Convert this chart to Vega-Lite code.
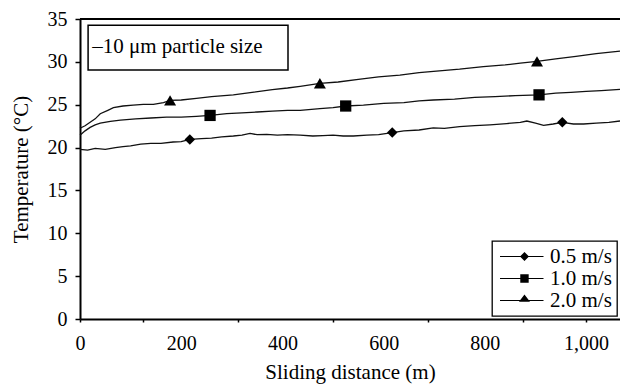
{
  "$schema": "https://vega.github.io/schema/vega-lite/v6.json",
  "width": 540,
  "height": 300,
  "autosize": {"type": "none"},
  "padding": {"left": 80, "top": 19, "right": 0, "bottom": 67},
  "background": "white",
  "config": {
    "view": {"stroke": null},
    "font": "Liberation Serif",
    "axis": {
      "grid": false,
      "domainColor": "black",
      "domainWidth": 2,
      "tickColor": "black",
      "tickWidth": 1.5,
      "labelColor": "black",
      "titleColor": "black",
      "labelFont": "Liberation Serif",
      "titleFont": "Liberation Serif",
      "labelFontSize": 20,
      "titleFontSize": 21,
      "titleFontWeight": "normal"
    },
    "legend": {
      "orient": "bottom-right",
      "offset": 3,
      "padding": 5,
      "strokeColor": "black",
      "strokeWidth": 1.3,
      "fillColor": "white",
      "symbolSize": 144,
      "symbolStrokeWidth": 0,
      "symbolFillColor": "black",
      "symbolOffset": 6,
      "labelFont": "Liberation Serif",
      "labelFontSize": 21,
      "labelColor": "black",
      "labelOffset": 26,
      "labelLimit": 300,
      "rowPadding": 0
    }
  },
  "datasets": {
    "lines": [
      {"series": "0.5 m/s", "x": 0, "t": 19.8},
      {"series": "0.5 m/s", "x": 15, "t": 19.7},
      {"series": "0.5 m/s", "x": 30, "t": 19.9},
      {"series": "0.5 m/s", "x": 50, "t": 19.8},
      {"series": "0.5 m/s", "x": 70, "t": 20.0},
      {"series": "0.5 m/s", "x": 85, "t": 20.1},
      {"series": "0.5 m/s", "x": 100, "t": 20.2},
      {"series": "0.5 m/s", "x": 120, "t": 20.4},
      {"series": "0.5 m/s", "x": 140, "t": 20.5},
      {"series": "0.5 m/s", "x": 160, "t": 20.5},
      {"series": "0.5 m/s", "x": 184, "t": 20.65},
      {"series": "0.5 m/s", "x": 200, "t": 20.7},
      {"series": "0.5 m/s", "x": 217, "t": 20.95},
      {"series": "0.5 m/s", "x": 240, "t": 21.05},
      {"series": "0.5 m/s", "x": 260, "t": 21.1},
      {"series": "0.5 m/s", "x": 280, "t": 21.25},
      {"series": "0.5 m/s", "x": 303, "t": 21.35},
      {"series": "0.5 m/s", "x": 320, "t": 21.45},
      {"series": "0.5 m/s", "x": 336, "t": 21.65},
      {"series": "0.5 m/s", "x": 350, "t": 21.5},
      {"series": "0.5 m/s", "x": 369, "t": 21.55},
      {"series": "0.5 m/s", "x": 390, "t": 21.45},
      {"series": "0.5 m/s", "x": 410, "t": 21.5},
      {"series": "0.5 m/s", "x": 435, "t": 21.45},
      {"series": "0.5 m/s", "x": 460, "t": 21.35},
      {"series": "0.5 m/s", "x": 480, "t": 21.4},
      {"series": "0.5 m/s", "x": 500, "t": 21.45},
      {"series": "0.5 m/s", "x": 520, "t": 21.35},
      {"series": "0.5 m/s", "x": 540, "t": 21.35},
      {"series": "0.5 m/s", "x": 567, "t": 21.45},
      {"series": "0.5 m/s", "x": 590, "t": 21.5},
      {"series": "0.5 m/s", "x": 617, "t": 21.75},
      {"series": "0.5 m/s", "x": 640, "t": 21.95},
      {"series": "0.5 m/s", "x": 670, "t": 22.05},
      {"series": "0.5 m/s", "x": 698, "t": 22.3},
      {"series": "0.5 m/s", "x": 720, "t": 22.25},
      {"series": "0.5 m/s", "x": 750, "t": 22.45},
      {"series": "0.5 m/s", "x": 780, "t": 22.55},
      {"series": "0.5 m/s", "x": 810, "t": 22.65},
      {"series": "0.5 m/s", "x": 843, "t": 22.8},
      {"series": "0.5 m/s", "x": 870, "t": 22.95},
      {"series": "0.5 m/s", "x": 883, "t": 23.1},
      {"series": "0.5 m/s", "x": 900, "t": 22.85},
      {"series": "0.5 m/s", "x": 916, "t": 22.6},
      {"series": "0.5 m/s", "x": 935, "t": 22.75},
      {"series": "0.5 m/s", "x": 953, "t": 22.95},
      {"series": "0.5 m/s", "x": 975, "t": 22.75},
      {"series": "0.5 m/s", "x": 995, "t": 22.75},
      {"series": "0.5 m/s", "x": 1020, "t": 22.85},
      {"series": "0.5 m/s", "x": 1045, "t": 22.95},
      {"series": "0.5 m/s", "x": 1067, "t": 23.1},
      {"series": "1.0 m/s", "x": 0, "t": 21.45},
      {"series": "1.0 m/s", "x": 10, "t": 21.95},
      {"series": "1.0 m/s", "x": 20, "t": 22.35},
      {"series": "1.0 m/s", "x": 30, "t": 22.65},
      {"series": "1.0 m/s", "x": 40, "t": 22.85},
      {"series": "1.0 m/s", "x": 60, "t": 23.05},
      {"series": "1.0 m/s", "x": 80, "t": 23.2},
      {"series": "1.0 m/s", "x": 110, "t": 23.35},
      {"series": "1.0 m/s", "x": 140, "t": 23.45},
      {"series": "1.0 m/s", "x": 171, "t": 23.55},
      {"series": "1.0 m/s", "x": 200, "t": 23.55},
      {"series": "1.0 m/s", "x": 230, "t": 23.65},
      {"series": "1.0 m/s", "x": 257, "t": 23.75},
      {"series": "1.0 m/s", "x": 290, "t": 23.95},
      {"series": "1.0 m/s", "x": 320, "t": 24.05},
      {"series": "1.0 m/s", "x": 350, "t": 24.15},
      {"series": "1.0 m/s", "x": 380, "t": 24.25},
      {"series": "1.0 m/s", "x": 410, "t": 24.35},
      {"series": "1.0 m/s", "x": 435, "t": 24.35},
      {"series": "1.0 m/s", "x": 474, "t": 24.55},
      {"series": "1.0 m/s", "x": 500, "t": 24.65},
      {"series": "1.0 m/s", "x": 525, "t": 24.85},
      {"series": "1.0 m/s", "x": 560, "t": 24.95},
      {"series": "1.0 m/s", "x": 600, "t": 25.15},
      {"series": "1.0 m/s", "x": 640, "t": 25.25},
      {"series": "1.0 m/s", "x": 670, "t": 25.45},
      {"series": "1.0 m/s", "x": 698, "t": 25.55},
      {"series": "1.0 m/s", "x": 740, "t": 25.65},
      {"series": "1.0 m/s", "x": 780, "t": 25.85},
      {"series": "1.0 m/s", "x": 820, "t": 25.95},
      {"series": "1.0 m/s", "x": 860, "t": 26.05},
      {"series": "1.0 m/s", "x": 907, "t": 26.15},
      {"series": "1.0 m/s", "x": 940, "t": 26.35},
      {"series": "1.0 m/s", "x": 970, "t": 26.45},
      {"series": "1.0 m/s", "x": 1000, "t": 26.55},
      {"series": "1.0 m/s", "x": 1030, "t": 26.65},
      {"series": "1.0 m/s", "x": 1067, "t": 26.8},
      {"series": "2.0 m/s", "x": 0, "t": 22.25},
      {"series": "2.0 m/s", "x": 10, "t": 22.55},
      {"series": "2.0 m/s", "x": 20, "t": 22.95},
      {"series": "2.0 m/s", "x": 30, "t": 23.35},
      {"series": "2.0 m/s", "x": 40, "t": 23.95},
      {"series": "2.0 m/s", "x": 55, "t": 24.35},
      {"series": "2.0 m/s", "x": 66, "t": 24.65},
      {"series": "2.0 m/s", "x": 85, "t": 24.85},
      {"series": "2.0 m/s", "x": 105, "t": 24.95},
      {"series": "2.0 m/s", "x": 125, "t": 25.05},
      {"series": "2.0 m/s", "x": 145, "t": 25.05},
      {"series": "2.0 m/s", "x": 165, "t": 25.25},
      {"series": "2.0 m/s", "x": 178, "t": 25.5},
      {"series": "2.0 m/s", "x": 200, "t": 25.55},
      {"series": "2.0 m/s", "x": 230, "t": 25.75},
      {"series": "2.0 m/s", "x": 260, "t": 25.95},
      {"series": "2.0 m/s", "x": 303, "t": 26.15},
      {"series": "2.0 m/s", "x": 340, "t": 26.45},
      {"series": "2.0 m/s", "x": 380, "t": 26.75},
      {"series": "2.0 m/s", "x": 410, "t": 26.95},
      {"series": "2.0 m/s", "x": 435, "t": 27.15},
      {"series": "2.0 m/s", "x": 474, "t": 27.5},
      {"series": "2.0 m/s", "x": 510, "t": 27.65},
      {"series": "2.0 m/s", "x": 550, "t": 27.95},
      {"series": "2.0 m/s", "x": 590, "t": 28.25},
      {"series": "2.0 m/s", "x": 632, "t": 28.45},
      {"series": "2.0 m/s", "x": 670, "t": 28.75},
      {"series": "2.0 m/s", "x": 710, "t": 28.95},
      {"series": "2.0 m/s", "x": 750, "t": 29.15},
      {"series": "2.0 m/s", "x": 797, "t": 29.45},
      {"series": "2.0 m/s", "x": 840, "t": 29.65},
      {"series": "2.0 m/s", "x": 870, "t": 29.85},
      {"series": "2.0 m/s", "x": 903, "t": 30.05},
      {"series": "2.0 m/s", "x": 940, "t": 30.35},
      {"series": "2.0 m/s", "x": 980, "t": 30.65},
      {"series": "2.0 m/s", "x": 1020, "t": 30.95},
      {"series": "2.0 m/s", "x": 1067, "t": 31.25}
    ],
    "markers": [
      {"series": "0.5 m/s", "x": 217, "t": 20.95},
      {"series": "0.5 m/s", "x": 617, "t": 21.75},
      {"series": "0.5 m/s", "x": 953, "t": 22.95},
      {"series": "1.0 m/s", "x": 257, "t": 23.75},
      {"series": "1.0 m/s", "x": 525, "t": 24.85},
      {"series": "1.0 m/s", "x": 907, "t": 26.15},
      {"series": "2.0 m/s", "x": 178, "t": 25.5},
      {"series": "2.0 m/s", "x": 474, "t": 27.5},
      {"series": "2.0 m/s", "x": 903, "t": 30.05}
    ],
    "note": [
      {"label": "–10 μm particle size"}
    ]
  },
  "layer": [
    {
      "data": {"name": "note"},
      "mark": {"type": "rule", "color": "black", "strokeWidth": 2},
      "encoding": {"y": {"datum": 35, "type": "quantitative", "title": "Temperature (°C)"}}
    },
    {
      "data": {"name": "lines"},
      "mark": {"type": "line", "color": "#111111", "strokeWidth": 1.3},
      "encoding": {
        "x": {
          "field": "x", "type": "quantitative", "title": "Sliding distance (m)",
          "scale": {"domain": [0, 1067], "nice": false, "zero": false},
          "axis": {
            "values": [0, 62.5, 125, 187.5, 200, 250, 312.5, 375, 400, 437.5, 500, 562.5, 600, 625, 687.5, 750, 800, 812.5, 875, 937.5, 1000, 1062.5],
            "labelExpr": "datum.value % 200 === 0 ? format(datum.value, ',') : ''",
            "labelOverlap": false,
            "labelFlush": false,
            "tickSize": 3,
            "tickOpacity": {"condition": {"test": "datum.value % 62.5 !== 0", "value": 0}, "value": 1},
            "labelPadding": 11,
            "titlePadding": 8
          }
        },
        "y": {
          "field": "t", "type": "quantitative", "title": "Temperature (°C)",
          "scale": {"domain": [0, 35], "nice": false, "zero": true},
          "axis": {
            "values": [0, 5, 10, 15, 20, 25, 30, 35],
            "tickSize": 5,
            "labelPadding": 8,
            "titlePadding": 16
          }
        },
        "detail": {"field": "series", "type": "nominal"}
      }
    },
    {
      "data": {"name": "markers"},
      "mark": {"type": "point", "filled": true, "color": "black", "opacity": 1},
      "encoding": {
        "x": {"field": "x", "type": "quantitative", "title": "Sliding distance (m)"},
        "y": {"field": "t", "type": "quantitative", "title": "Temperature (°C)"},
        "shape": {"field": "series", "type": "nominal", "scale": {"domain": ["0.5 m/s", "1.0 m/s", "2.0 m/s"], "range": ["diamond", "square", "triangle-up"]}, "legend": null},
        "size": {"field": "series", "type": "nominal", "scale": {"domain": ["0.5 m/s", "1.0 m/s", "2.0 m/s"], "range": [110, 144, 150]}, "legend": null}
      }
    },
    {
      "data": {"name": "markers"},
      "transform": [{"filter": "false"}],
      "mark": {"type": "point", "filled": true, "color": "black", "opacity": 1, "strokeWidth": 0},
      "encoding": {
        "x": {"field": "x", "type": "quantitative", "title": "Sliding distance (m)"},
        "y": {"field": "t", "type": "quantitative", "title": "Temperature (°C)"},
        "shape": {
          "field": "series", "type": "nominal",
          "scale": {
            "domain": ["0.5 m/s", "1.0 m/s", "2.0 m/s"],
            "range": [
              "M-2.25,-0.1L5,-0.1L5,0.1L-2.25,0.1ZM1.83,-0.75L2.58,0L1.83,0.75L1.08,0Z",
              "M-2.25,-0.1L5,-0.1L5,0.1L-2.25,0.1ZM1.13,-0.7L2.53,-0.7L2.53,0.7L1.13,0.7Z",
              "M-2.25,-0.1L5,-0.1L5,0.1L-2.25,0.1ZM1.83,-1.0L2.75,0.2L0.91,0.2Z"
            ]
          },
          "legend": {"title": null}
        }
      }
    },
    {
      "data": {"name": "note"},
      "mark": {"type": "rect", "fill": "white", "stroke": "black", "strokeWidth": 1.5},
      "encoding": {
        "x": {"datum": 16, "type": "quantitative"},
        "x2": {"datum": 411},
        "y": {"datum": 34.26, "type": "quantitative"},
        "y2": {"datum": 29.05}
      }
    },
    {
      "data": {"name": "note"},
      "mark": {"type": "text", "align": "left", "baseline": "middle", "font": "Liberation Serif", "fontSize": 21, "color": "black"},
      "encoding": {
        "text": {"field": "label", "type": "nominal"},
        "x": {"datum": 24, "type": "quantitative"},
        "y": {"datum": 31.7, "type": "quantitative"}
      }
    }
  ],
  "resolve": {"scale": {"shape": "independent", "size": "independent"}}
}
